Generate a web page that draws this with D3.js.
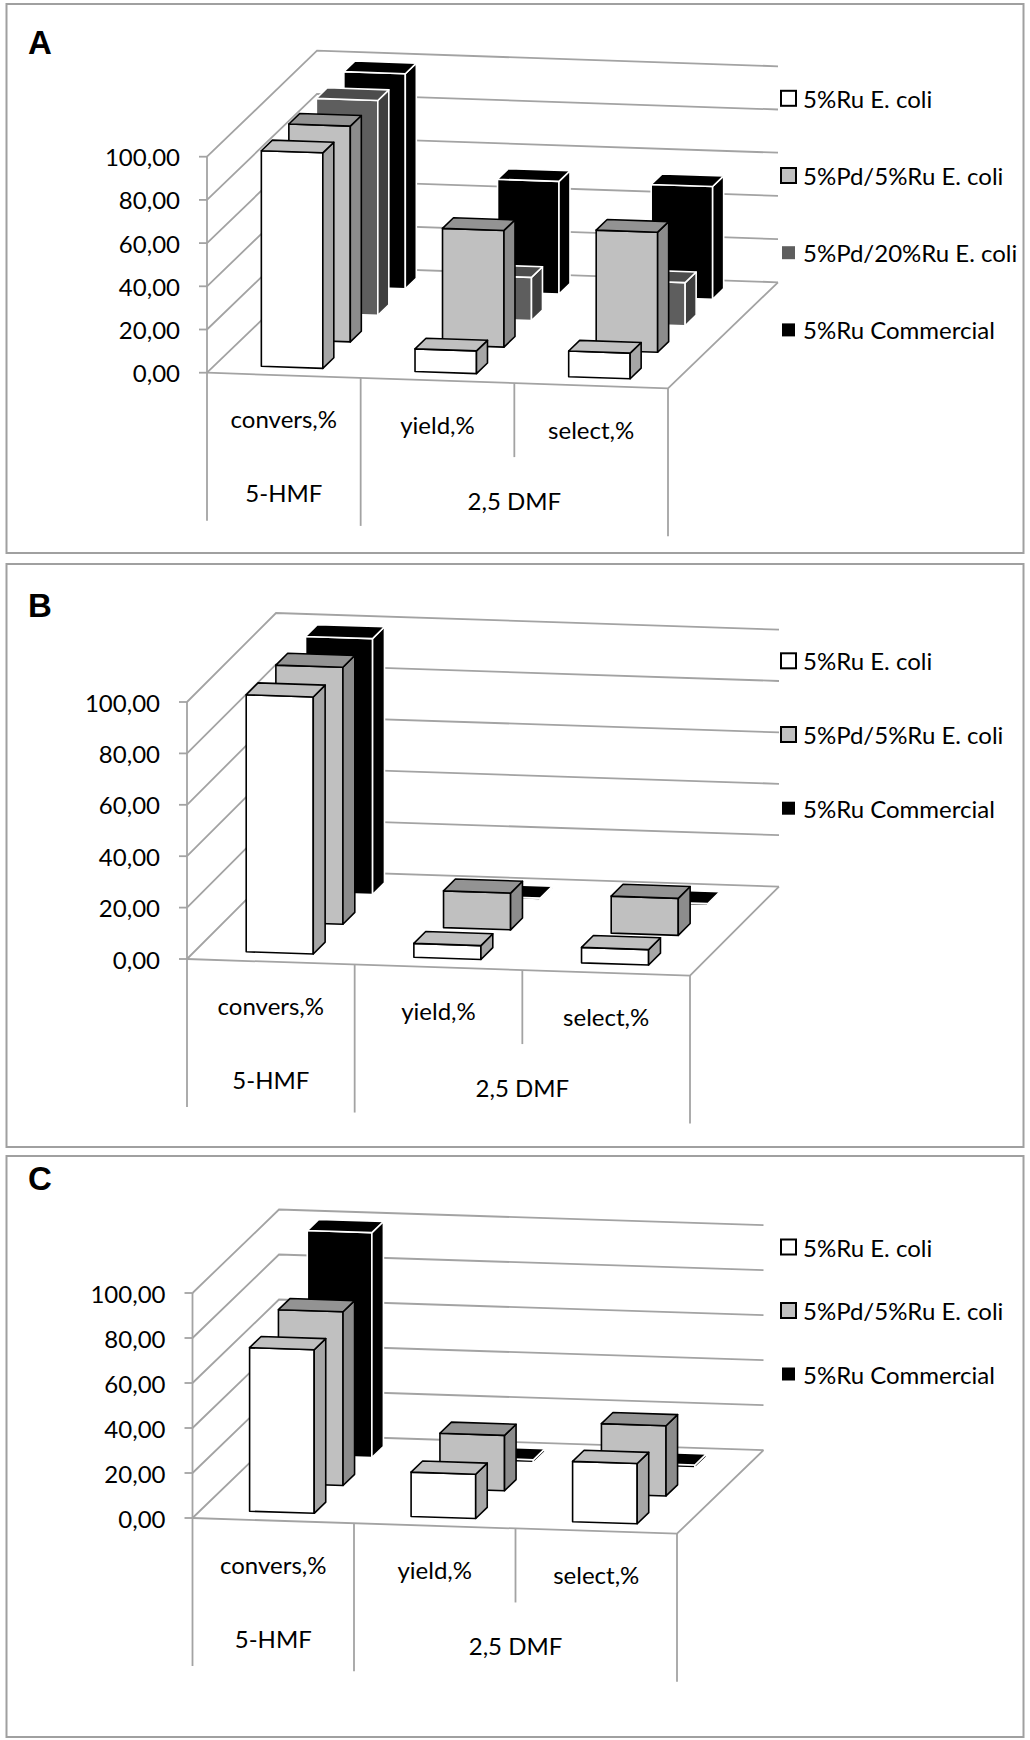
<!DOCTYPE html>
<html>
<head>
<meta charset="utf-8">
<script src="https://cdn.jsdelivr.net/npm/d3@7"></script>
<style>
  body { margin: 0; background: #fff; }
  text { font-family: Lato, "Open Sans", sans-serif; fill: #000; }
</style>
</head>
<body>
<div id="chart"></div>
<script>
// categories on the front axis, two levels
const categories = ['convers,%', 'yield,%', 'select,%'];
const groupLabels = ['5-HMF', '2,5 DMF'];
const groupSpans = [1, 2];
const yTicks = [0, 20, 40, 60, 80, 100];

// panel A
const seriesA = ['5%Ru E. coli', '5%Pd/5%Ru E. coli', '5%Pd/20%Ru E. coli', '5%Ru Commercial'];
const valuesA = [
    [99.8, 10.5, 11.9],
    [99.9, 54.0, 55.6],
    [99.5, 20.0, 20.0],
    [99.6, 52.2, 52.2]
];

// panel B
const seriesB = ['5%Ru E. coli', '5%Pd/5%Ru E. coli', '5%Ru Commercial'];
const valuesB = [
    [100.0, 5.4, 6.0],
    [100.0, 14.3, 14.4],
    [99.6, 0.8, 0.8]
];

// panel C
const seriesC = ['5%Ru E. coli', '5%Pd/5%Ru E. coli', '5%Ru Commercial'];
const valuesC = [
    [72.7, 19.7, 26.8],
    [77.2, 24.6, 31.2],
    [100.0, 1.4, 1.4]
];

const fmt = d3.formatLocale({decimal: ',', thousands: ' ', grouping: [3], currency: ['', '']}).format('.2f');

// face colours: front, side, top, outline
const styles = {
    '5%Ru E. coli':       {front: '#ffffff', side: '#a6a6a6', top: '#c0c0c0', stroke: '#000'},
    '5%Pd/5%Ru E. coli':  {front: '#c0c0c0', side: '#8c8c8c', top: '#939393', stroke: '#000'},
    '5%Pd/20%Ru E. coli': {front: '#5e5e5e', side: '#3f3f3f', top: '#4c4c4c', stroke: '#fff'},
    '5%Ru Commercial':    {front: '#000000', side: '#000000', top: '#000000', stroke: '#fff'}
};

const panels = [
    {id: 'A', series: seriesA, values: valuesA, top: 4, bottom: 553, labelY: 54,
     origin: [207, 372.7], front: [461, 15.6], depth: [110, -106], unit: 2.16, legendY: 98.3, legendStep: 77.2},
    {id: 'B', series: seriesB, values: valuesB, top: 564, bottom: 1147, labelY: 616.5,
     origin: [187, 959], front: [503, 16.6], depth: [89, -89], unit: 2.57, legendY: 660.8, legendStep: 73.7},
    {id: 'C', series: seriesC, values: valuesC, top: 1156, bottom: 1737, labelY: 1190,
     origin: [192.5, 1518], front: [484.5, 15.7], depth: [86.5, -83.5], unit: 2.25, legendY: 1247, legendStep: 63.5}
];

const width = 1030, height = 1740;
const svg = d3.select('#chart').append('svg').attr('width', width).attr('height', height);
const line = d3.line();
const gridColor = '#a3a3a3';

panels.forEach(drawPanel);

function drawPanel(p) {
    const g = svg.append('g');

    g.append('rect').attr('x', 6.5).attr('y', p.top).attr('width', 1017).attr('height', p.bottom - p.top)
        .attr('fill', '#fff').attr('stroke', '#a0a0a0').attr('stroke-width', 2);

    g.append('text').attr('x', 28).attr('y', p.labelY).text(p.id)
        .style('font-family', '"Liberation Sans", Arial, sans-serif').style('font-weight', 'bold').style('font-size', '33px');

    const u = d3.scaleBand().domain(categories).range([0, 1]).paddingInner(0.6).paddingOuter(0.3);
    const z = d3.scaleBand().domain(p.series).range([0, 1]).paddingInner(0.6).paddingOuter(0.3);
    const v = d3.scaleLinear().domain([0, 100]).range([0, p.unit * 100]);

    // oblique projection: a along categories, b along series depth, c value
    const pt = (a, b, c) => [
        p.origin[0] + a * p.front[0] + b * p.depth[0],
        p.origin[1] + a * p.front[1] + b * p.depth[1] - v(c)
    ];

    // walls and floor
    g.append('path').attr('d', line([pt(0, 0, 0), pt(1, 0, 0), pt(1, 1, 0), pt(1, 1, 100), pt(0, 1, 100), pt(0, 0, 100)]) + 'Z')
        .attr('fill', '#fff');

    g.selectAll('.grid').data(yTicks).join('path').attr('class', 'grid')
        .attr('d', t => line([pt(0, 0, t), pt(0, 1, t), pt(1, 1, t)]))
        .attr('fill', 'none').attr('stroke', gridColor).attr('stroke-width', 1.8);

    g.append('path').attr('d', line([pt(0, 0, 0), pt(1, 0, 0), pt(1, 1, 0)]))
        .attr('fill', 'none').attr('stroke', gridColor).attr('stroke-width', 1.8);

    // value axis on the front left edge
    g.append('path').attr('d', line([pt(0, 0, 0), pt(0, 0, 100)]))
        .attr('fill', 'none').attr('stroke', gridColor).attr('stroke-width', 1.8);
    g.selectAll('.tick').data(yTicks).join('path').attr('class', 'tick')
        .attr('d', t => { const q = pt(0, 0, t); return line([[q[0] - 8, q[1]], q]); })
        .attr('stroke', gridColor).attr('stroke-width', 1.8);
    g.selectAll('.ylab').data(yTicks).join('text').attr('class', 'ylab')
        .attr('x', t => pt(0, 0, t)[0] - 27).attr('y', t => pt(0, 0, t)[1])
        .attr('text-anchor', 'end').attr('dominant-baseline', 'central')
        .style('font-size', '24px').text(fmt);

    // category label grid below the floor
    const n = categories.length;
    const groupEdges = Array.from(d3.cumsum(groupSpans));
    const edges = d3.range(n + 1).map(i => ({a: i / n, full: i === 0 || groupEdges.includes(i)}));
    g.selectAll('.cline').data(edges).join('path').attr('class', 'cline')
        .attr('d', e => { const q = pt(e.a, 0, 0); return line([q, [q[0], q[1] + (e.full ? 148 : 74)]]); })
        .attr('stroke', gridColor).attr('stroke-width', 1.8);

    g.selectAll('.clab').data(categories).join('text').attr('class', 'clab')
        .attr('x', c => pt(u(c) + u.bandwidth() / 2, 0, 0)[0])
        .attr('y', c => pt(u(c) + u.bandwidth() / 2, 0, 0)[1] + 53)
        .attr('text-anchor', 'middle').style('font-size', '24px').text(c => c);

    const starts = [0, ...groupEdges.slice(0, -1)];
    const groupMid = i => (starts[i] + groupSpans[i] / 2) / n;
    g.selectAll('.glab').data(groupLabels).join('text').attr('class', 'glab')
        .attr('x', (d, i) => pt(groupMid(i), 0, 0)[0])
        .attr('y', (d, i) => pt(groupMid(i), 0, 0)[1] + 127)
        .attr('text-anchor', 'middle').style('font-size', '24px').text(d => d);

    // bars, back row first
    const bars = [];
    p.series.forEach((s, si) => categories.forEach((c, ci) => bars.push({s, c, val: p.values[si][ci], si})));
    bars.sort((a, b) => b.si - a.si);

    const bw = u.bandwidth(), bd = z.bandwidth();
    const bar = g.selectAll('.bar').data(bars).join('g').attr('class', 'bar');
    const face = (sel, key, fn) => sel.append('path').attr('d', d => line(fn(d)) + 'Z')
        .attr('fill', d => styles[d.s][key]).attr('stroke', d => styles[d.s].stroke)
        .attr('stroke-width', 1.6).attr('stroke-linejoin', 'round');
    face(bar, 'front', d => { const a = u(d.c), b = z(d.s); return [pt(a, b, 0), pt(a + bw, b, 0), pt(a + bw, b, d.val), pt(a, b, d.val)]; });
    face(bar, 'side', d => { const a = u(d.c) + bw, b = z(d.s); return [pt(a, b, 0), pt(a, b + bd, 0), pt(a, b + bd, d.val), pt(a, b, d.val)]; });
    face(bar, 'top', d => { const a = u(d.c), b = z(d.s); return [pt(a, b, d.val), pt(a + bw, b, d.val), pt(a + bw, b + bd, d.val), pt(a, b + bd, d.val)]; });

    // legend
    const leg = g.selectAll('.leg').data(p.series).join('g').attr('class', 'leg')
        .attr('transform', (s, i) => `translate(781, ${p.legendY + i * p.legendStep})`);
    leg.append('rect').attr('x', 0).attr('y', -7.5).attr('width', 15).attr('height', 15)
        .attr('fill', s => styles[s].front).attr('stroke', s => styles[s].stroke).attr('stroke-width', 2);
    leg.append('text').attr('x', 22).attr('y', 0).attr('dominant-baseline', 'central')
        .style('font-size', '24px').text(s => s);
}
</script>
</body>
</html>
